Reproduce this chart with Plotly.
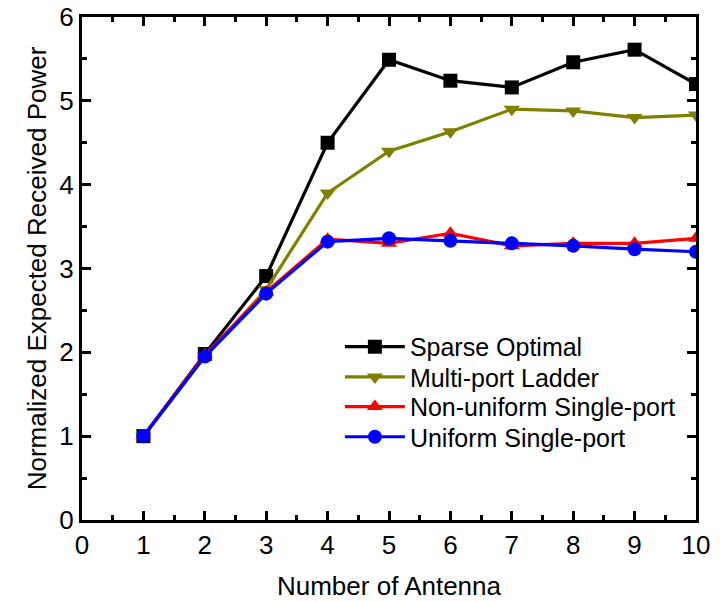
import plotly.graph_objects as go

antennas = [1, 2, 3, 4, 5, 6, 7, 8, 9, 10]
sparse_optimal = [1.0, 1.98, 2.91, 4.50, 5.49, 5.24, 5.16, 5.46, 5.61, 5.20]
multi_port_ladder = [1.0, 1.95, 2.75, 3.90, 4.40, 4.63, 4.90, 4.88, 4.80, 4.83]
non_uniform_single = [1.0, 1.97, 2.72, 3.35, 3.30, 3.42, 3.27, 3.30, 3.30, 3.36]
uniform_single = [1.0, 1.95, 2.70, 3.32, 3.36, 3.33, 3.30, 3.27, 3.23, 3.20]

series = [
    ("Sparse Optimal", sparse_optimal, "black", "square"),
    ("Multi-port Ladder", multi_port_ladder, "#808000", "triangle-down"),
    ("Non-uniform Single-port", non_uniform_single, "red", "triangle-up"),
    ("Uniform Single-port", uniform_single, "blue", "circle"),
]

legend_ids = ["legend", "legend2", "legend3", "legend4"]
legend_ys = [0.344, 0.284, 0.225, 0.165]

fig = go.Figure()
for (name, vals, color, sym), lid in zip(series, legend_ids):
    fig.add_trace(go.Scatter(
        x=antennas, y=vals, name=name, mode="lines+markers",
        line=dict(color=color, width=3.2),
        marker=dict(symbol=sym, size=14, color=color),
        cliponaxis=True, legend=lid, showlegend=True,
    ))

font = "Liberation Sans, Arial, sans-serif"
axis_common = dict(
    showgrid=False, zeroline=False, showline=True, linecolor="black", linewidth=3,
    ticks="inside", ticklen=9, tickwidth=2.5, tickcolor="black", mirror="ticks",
    tickfont=dict(family=font, size=26, color="black"), automargin=False,
)
fig.update_xaxes(range=[0, 10], dtick=1, tick0=0,
                 minor=dict(dtick=0.5, ticklen=5, tickwidth=2.5, ticks="inside", tickcolor="black"),
                 title=dict(text="Number of Antenna", font=dict(family=font, size=26, color="black"), standoff=18),
                 **axis_common)
fig.update_yaxes(range=[0, 6], dtick=1, tick0=0,
                 minor=dict(dtick=0.5, ticklen=5, tickwidth=2.5, ticks="inside", tickcolor="black"),
                 title=dict(text="Normalized Expected Received Power", font=dict(family=font, size=26, color="black"), standoff=6),
                 **axis_common)

legend_common = dict(x=0.42, xanchor="left", yanchor="middle",
                     bgcolor="rgba(0,0,0,0)", borderwidth=0,
                     font=dict(family=font, size=25, color="black"),
                     tracegroupgap=0, itemwidth=60)
layout_legends = {lid: dict(y=ly, **legend_common) for lid, ly in zip(legend_ids, legend_ys)}

fig.update_layout(
    width=722, height=602, showlegend=True,
    margin=dict(l=82, r=26, t=17, b=82),
    plot_bgcolor="white", paper_bgcolor="white",
    **layout_legends,
)
fig.write_html("out.html")
